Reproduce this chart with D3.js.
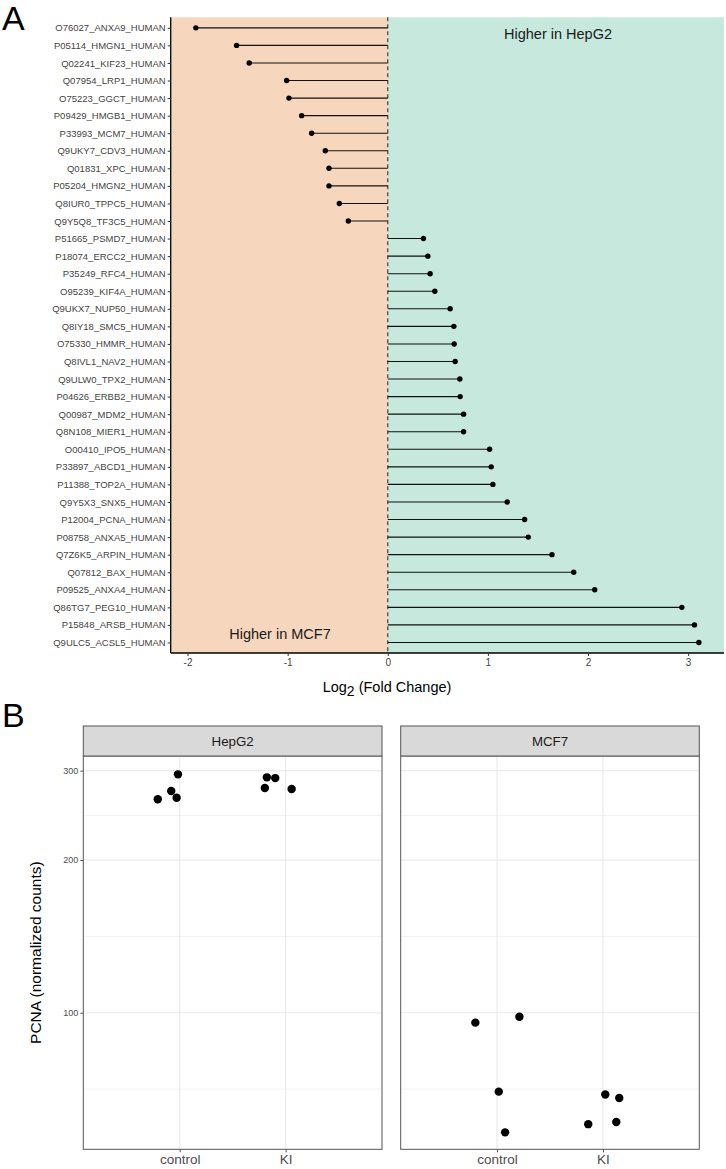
<!DOCTYPE html>
<html>
<head>
<meta charset="utf-8">
<script src="https://cdn.jsdelivr.net/npm/d3@7"></script>
<style>
  html, body { margin: 0; padding: 0; background: #fff; }
  svg { display: block; font-family: "Liberation Sans", Arial, Helvetica, sans-serif; }
</style>
</head>
<body>
<svg id="chart" width="726" height="1169"></svg>
<script>
// ---------- Panel A data ----------
const proteins = [
  "O76027_ANXA9_HUMAN","P05114_HMGN1_HUMAN","Q02241_KIF23_HUMAN","Q07954_LRP1_HUMAN",
  "O75223_GGCT_HUMAN","P09429_HMGB1_HUMAN","P33993_MCM7_HUMAN","Q9UKY7_CDV3_HUMAN",
  "Q01831_XPC_HUMAN","P05204_HMGN2_HUMAN","Q8IUR0_TPPC5_HUMAN","Q9Y5Q8_TF3C5_HUMAN",
  "P51665_PSMD7_HUMAN","P18074_ERCC2_HUMAN","P35249_RFC4_HUMAN","O95239_KIF4A_HUMAN",
  "Q9UKX7_NUP50_HUMAN","Q8IY18_SMC5_HUMAN","O75330_HMMR_HUMAN","Q8IVL1_NAV2_HUMAN",
  "Q9ULW0_TPX2_HUMAN","P04626_ERBB2_HUMAN","Q00987_MDM2_HUMAN","Q8N108_MIER1_HUMAN",
  "O00410_IPO5_HUMAN","P33897_ABCD1_HUMAN","P11388_TOP2A_HUMAN","Q9Y5X3_SNX5_HUMAN",
  "P12004_PCNA_HUMAN","P08758_ANXA5_HUMAN","Q7Z6K5_ARPIN_HUMAN","Q07812_BAX_HUMAN",
  "P09525_ANXA4_HUMAN","Q86TG7_PEG10_HUMAN","P15848_ARSB_HUMAN","Q9ULC5_ACSL5_HUMAN"
];
const log2FC = [
  -1.917,-1.51,-1.384,-1.01,
  -0.987,-0.86,-0.76,-0.624,
  -0.587,-0.587,-0.484,-0.394,
  0.356,0.40,0.423,0.47,
  0.623,0.66,0.663,0.673,
  0.72,0.723,0.757,0.757,
  1.017,1.033,1.05,1.193,
  1.367,1.403,1.64,1.857,
  2.067,2.937,3.063,3.107
];
const xTicksA = [-2,-1,0,1,2,3];

// ---------- Panel B data ----------
const cellLines = ["HepG2","MCF7"];
const conditions = ["control","KI"];
const pcnaLine = ["HepG2","HepG2","HepG2","HepG2","HepG2","HepG2","HepG2","HepG2",
                  "MCF7","MCF7","MCF7","MCF7","MCF7","MCF7","MCF7","MCF7"];
const pcnaCond = ["control","control","control","control","KI","KI","KI","KI",
                  "control","control","control","control","KI","KI","KI","KI"];
const pcnaCounts = [295.1,273.6,263.5,265.4, 291.1,290.1,277.3,276.1,
                    95.6,98.2,69.9,58.1, 69.0,67.9,60.3,60.9];
const pcnaJitter = [-0.016,-0.08,-0.207,-0.029, -0.177,-0.098,-0.196,0.057,
                    -0.205,0.211,0.016,0.076, 0.022,0.154,-0.139,0.126];
const yTicksB = [100,200,300];
const yMinorB = [70.7,141.4,244.9];

const svg = d3.select("#chart");

// ================= PANEL A =================
const A = {left: 170.7, right: 724, top: 17.3, bottom: 653};
const xA = d3.scaleLinear().domain([-2.168, 3.358]).range([A.left, A.right]);
const yA = d3.scalePoint().domain(proteins).range([A.top, A.bottom]).padding(0.6);

const gA = svg.append("g");
gA.append("rect").attr("x", xA(-2.168)).attr("y", A.top)
  .attr("width", xA(0) - xA(-2.168)).attr("height", A.bottom - A.top)
  .attr("fill", "#F6D6BD");
gA.append("rect").attr("x", xA(0)).attr("y", A.top)
  .attr("width", xA(3.358) - xA(0)).attr("height", A.bottom - A.top)
  .attr("fill", "#C7E8DD");

gA.append("text").attr("x", 558).attr("y", 39).attr("text-anchor", "middle")
  .attr("font-size", 14.5).attr("fill", "#1a1a1a").text("Higher in HepG2");
gA.append("text").attr("x", 280).attr("y", 639).attr("text-anchor", "middle")
  .attr("font-size", 14.5).attr("fill", "#1a1a1a").text("Higher in MCF7");

gA.append("line").attr("x1", xA(0)).attr("x2", xA(0))
  .attr("y1", A.top).attr("y2", A.bottom)
  .attr("stroke", "#333").attr("stroke-width", 1.1).attr("stroke-dasharray", "4,3");

const rows = proteins.map((p, i) => ({p, v: log2FC[i]}));
gA.selectAll("line.seg").data(rows).join("line").attr("class", "seg")
  .attr("x1", xA(0)).attr("x2", d => xA(d.v))
  .attr("y1", d => yA(d.p)).attr("y2", d => yA(d.p))
  .attr("stroke", "#111").attr("stroke-width", 1.1);
gA.selectAll("circle.dot").data(rows).join("circle").attr("class", "dot")
  .attr("cx", d => xA(d.v)).attr("cy", d => yA(d.p)).attr("r", 2.7).attr("fill", "#000");

// y axis A
const yAxisA = gA.append("g").attr("transform", `translate(${A.left},0)`)
  .call(d3.axisLeft(yA).tickSize(3).tickPadding(2));
yAxisA.select(".domain").attr("stroke", "#000").attr("stroke-width", 1.3)
  .attr("d", `M0,${A.top}V${A.bottom}`);
yAxisA.selectAll(".tick line").attr("stroke", "#333");
yAxisA.selectAll(".tick text").attr("font-size", 9.5).attr("fill", "#444")
  .attr("font-family", "Liberation Sans, Arial, sans-serif");

// x axis A
const xAxisA = gA.append("g").attr("transform", `translate(0,${A.bottom})`)
  .call(d3.axisBottom(xA).tickValues(xTicksA).tickSize(3).tickPadding(3).tickFormat(d => String(d)));
xAxisA.select(".domain").attr("stroke", "#000").attr("stroke-width", 1.3)
  .attr("d", `M${A.left},0H${A.right}`);
xAxisA.selectAll(".tick line").attr("stroke", "#333");
xAxisA.selectAll(".tick text").attr("font-size", 10).attr("fill", "#444")
  .attr("font-family", "Liberation Sans, Arial, sans-serif");

const tA = gA.append("text").attr("x", 387).attr("y", 692).attr("text-anchor", "middle")
  .attr("font-size", 14.5).attr("fill", "#000");
tA.append("tspan").text("Log");
tA.append("tspan").attr("dy", 4).attr("font-size", 14).text("2");
tA.append("tspan").attr("dy", -4).text(" (Fold Change)");

svg.append("text").attr("x", 2).attr("y", 30).attr("font-size", 34).attr("fill", "#000").text("A");
svg.append("text").attr("x", 2).attr("y", 727).attr("font-size", 34).attr("fill", "#000").text("B");

// ================= PANEL B =================
const B = {top: 756, bottom: 1149.3, stripTop: 726};
const panelX = {HepG2: [83.3, 382], MCF7: [400.7, 699.3]};
const yB = d3.scaleLog().domain([53.8, 320.7]).range([B.bottom, B.top]);
const condIndex = d3.scaleOrdinal().domain(conditions).range([1, 2]);
const fontB = "'Liberation Sans', Arial, sans-serif";

cellLines.forEach(line => {
  const [l, r] = panelX[line];
  const xB = d3.scaleLinear().domain([0.09, 2.91]).range([l, r]);
  const g = svg.append("g");
  g.append("rect").attr("x", l).attr("y", B.top).attr("width", r - l).attr("height", B.bottom - B.top)
    .attr("fill", "#fff");
  // minor grid
  g.selectAll("line.minor").data(yMinorB).join("line").attr("class", "minor")
    .attr("x1", l).attr("x2", r).attr("y1", d => yB(d)).attr("y2", d => yB(d))
    .attr("stroke", "#F2F2F2").attr("stroke-width", 1);
  // major grid
  g.selectAll("line.majy").data(yTicksB).join("line").attr("class", "majy")
    .attr("x1", l).attr("x2", r).attr("y1", d => yB(d)).attr("y2", d => yB(d))
    .attr("stroke", "#EBEBEB").attr("stroke-width", 1.2);
  g.selectAll("line.majx").data(conditions).join("line").attr("class", "majx")
    .attr("x1", d => xB(condIndex(d))).attr("x2", d => xB(condIndex(d)))
    .attr("y1", B.top).attr("y2", B.bottom)
    .attr("stroke", "#EBEBEB").attr("stroke-width", 1.2);
  // points
  const pts = pcnaCounts.map((v, i) => ({v, line: pcnaLine[i], cond: pcnaCond[i], j: pcnaJitter[i]}))
    .filter(d => d.line === line);
  g.selectAll("circle").data(pts).join("circle")
    .attr("cx", d => xB(condIndex(d.cond) + d.j)).attr("cy", d => yB(d.v))
    .attr("r", 4.2).attr("fill", "#000");
  // border
  g.append("rect").attr("x", l).attr("y", B.top).attr("width", r - l).attr("height", B.bottom - B.top)
    .attr("fill", "none").attr("stroke", "#555").attr("stroke-width", 1);
  // strip
  g.append("rect").attr("x", l).attr("y", B.stripTop).attr("width", r - l).attr("height", B.top - B.stripTop)
    .attr("fill", "#D9D9D9").attr("stroke", "#555").attr("stroke-width", 1);
  g.append("text").attr("x", (l + r) / 2).attr("y", 746).attr("text-anchor", "middle")
    .attr("font-size", 13.3).attr("font-family", fontB).attr("fill", "#1a1a1a").text(line);
  // x axis
  const xa = g.append("g").attr("transform", `translate(0,${B.bottom})`)
    .call(d3.axisBottom(xB).tickValues(conditions.map(c => condIndex(c)))
      .tickFormat((d, i) => conditions[i]).tickSize(3).tickPadding(2));
  xa.select(".domain").remove();
  xa.selectAll(".tick line").attr("stroke", "#555");
  xa.selectAll(".tick text").attr("font-size", 13.5).attr("fill", "#4D4D4D").attr("font-family", fontB);
  if (line === "HepG2") {
    const ya = g.append("g").attr("transform", `translate(${l},0)`)
      .call(d3.axisLeft(yB).tickValues(yTicksB).tickFormat(d3.format("d")).tickSize(3).tickPadding(2));
    ya.select(".domain").remove();
    ya.selectAll(".tick line").attr("stroke", "#555");
    ya.selectAll(".tick text").attr("font-size", 9).attr("fill", "#4D4D4D").attr("font-family", fontB);
  }
});

svg.append("text").attr("transform", `translate(41,${(B.top + B.bottom) / 2}) rotate(-90)`)
  .attr("text-anchor", "middle").attr("font-size", 15.5).attr("fill", "#000")
  .text("PCNA (normalized counts)");
</script>
</body>
</html>
